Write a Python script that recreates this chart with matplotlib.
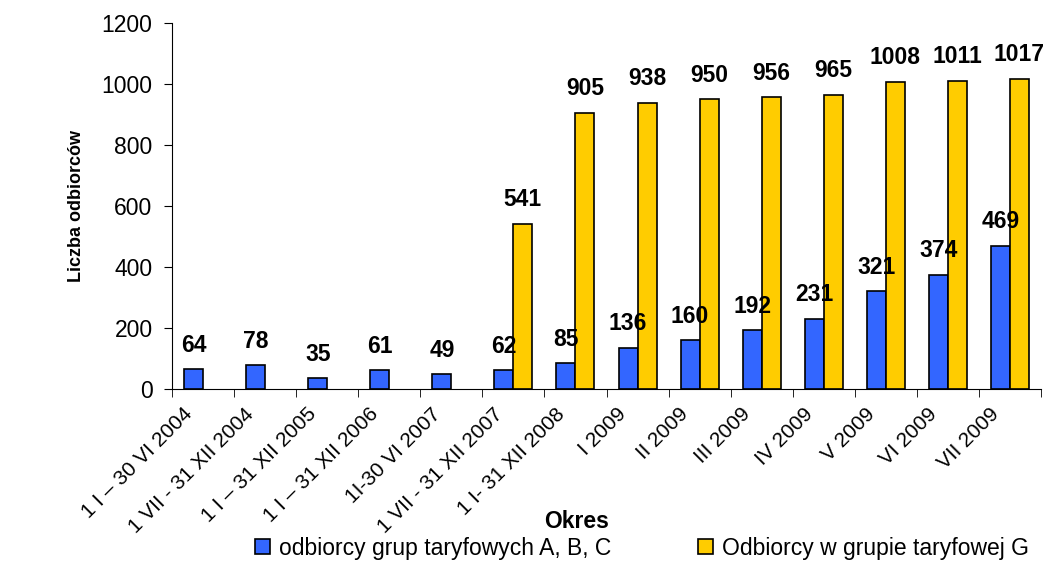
import numpy as np
import matplotlib
matplotlib.use("Agg")
import matplotlib.pyplot as plt
from matplotlib.transforms import ScaledTranslation

plt.rcParams['font.family'] = ['Liberation Sans', 'DejaVu Sans']

okresy = ["1 I – 30 VI 2004", "1 VII - 31 XII 2004", "1 I – 31 XII 2005",
          "1 I – 31 XII 2006", "1I-30 VI 2007", "1 VII - 31 XII 2007",
          "1 I- 31 XII 2008", "I 2009", "II 2009", "III 2009", "IV 2009",
          "V 2009", "VI 2009", "VII 2009"]
abc = [64, 78, 35, 61, 49, 62, 85, 136, 160, 192, 231, 321, 374, 469]
grupa_g = [np.nan, np.nan, np.nan, np.nan, np.nan, 541, 905, 938, 950, 956,
           965, 1008, 1011, 1017]

seria1 = "odbiorcy grup taryfowych A, B, C"
seria2 = "Odbiorcy w grupie taryfowej G"

fig = plt.figure(figsize=(10.46, 5.70), dpi=100)
ax = fig.add_axes([172/1046, 1 - 389/570, 869/1046, 366/570])

x = np.arange(len(okresy))
w = 0.306
g = np.array(grupa_g, dtype=float)
ok = ~np.isnan(g)

b1 = ax.bar(x - w/2, abc, w, color='#3366FF', edgecolor='black', linewidth=1.2,
            label=seria1)
b2 = ax.bar(x[ok] + w/2, g[ok], w, color='#FFCC00', edgecolor='black',
            linewidth=1.2, label=seria2)

for xi, v in zip(x, abc):
    ax.annotate(str(v), (xi - w/2, v), xytext=(0, 9), textcoords='offset points',
                ha='center', va='bottom', fontsize=16.5, fontweight='bold')
for xi, v in zip(x[ok], g[ok]):
    ax.annotate(str(int(v)), (xi + w/2, v), xytext=(0, 9),
                textcoords='offset points', ha='center', va='bottom',
                fontsize=16.5, fontweight='bold')

ax.set_xlim(-0.5, len(okresy) - 0.5)
ax.set_ylim(0, 1200)
ax.set_yticks(range(0, 1201, 200))
ax.tick_params(axis='y', labelsize=16.5, length=6, pad=8, direction='out')

ax.set_xticks(np.arange(-0.5, len(okresy)), minor=True)
ax.set_xticks(x)
ax.set_xticklabels(okresy, rotation=45, ha='right', va='center',
                   rotation_mode='anchor', fontsize=15)
ax.tick_params(axis='x', which='major', length=0, pad=16)
ax.tick_params(axis='x', which='minor', length=6, direction='out')
shift = ScaledTranslation(-14/100, 0, fig.dpi_scale_trans)
for lab in ax.get_xticklabels():
    lab.set_transform(lab.get_transform() + shift)

ax.spines['top'].set_visible(False)
ax.spines['right'].set_visible(False)

ax.set_ylabel("Liczba odbiorców", fontsize=13, fontweight='bold', labelpad=12)
fig.text(577/1046, 1 - 521/570, "Okres", fontsize=16.5, fontweight='bold',
         ha='center', va='center')

fig.legend(handles=[b1, b2], loc='center', ncol=2,
           bbox_to_anchor=(642/1046, 1 - 548/570), frameon=False, fontsize=16.5,
           handlelength=0.65, handleheight=0.65, handletextpad=0.4,
           columnspacing=3.8)

fig.savefig("out.png", dpi=100)
